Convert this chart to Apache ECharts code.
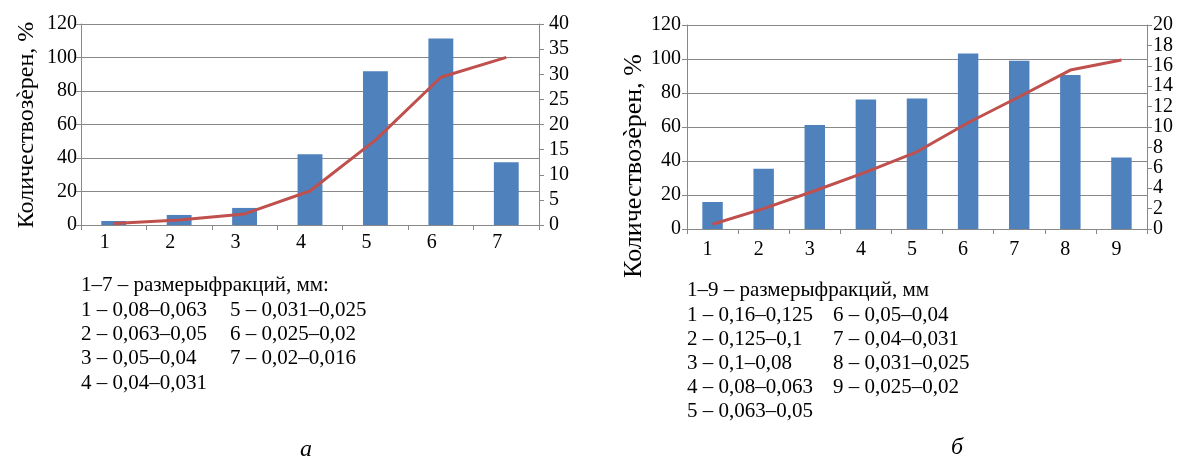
<!DOCTYPE html>
<html><head><meta charset="utf-8">
<script src="https://cdn.jsdelivr.net/npm/echarts@6/dist/echarts.min.js"></script>
<style>html,body{margin:0;padding:0;background:#fff}#c{width:1182px;height:457px}</style>
</head><body><div id="c"></div>
<script>
// ---- Data ----
const catsA = ['1','2','3','4','5','6','7'];
const barsA = [0.8, 2.0, 3.4, 14.1, 30.6, 37.1, 12.5];      // right axis
const lineA = [0.9, 3.0, 6.6, 20.3, 50.7, 88.2, 100.1];     // left axis
const leftTicksA = [0, 120, 20];
const rightTicksA = [0, 40, 5];

const catsB = ['1','2','3','4','5','6','7','8','9'];
const barsB = [2.65, 5.9, 10.2, 12.7, 12.8, 17.2, 16.5, 15.1, 7.0];
const lineB = [2.8, 12.0, 22.5, 33.5, 45.4, 62.5, 77.8, 93.5, 99.4];
const leftTicksB = [0, 120, 20];
const rightTicksB = [0, 20, 2];

const yTitle = 'Количествозѐрен, %';
const headerA = '1–7 – размерыфракций, мм:';
const legendA1 = ['1 – 0,08–0,063', '2 – 0,063–0,05', '3 – 0,05–0,04', '4 – 0,04–0,031'];
const legendA2 = ['5 – 0,031–0,025', '6 – 0,025–0,02', '7 – 0,02–0,016'];
const headerB = '1–9 – размерыфракций, мм';
const legendB1 = ['1 – 0,16–0,125', '2 – 0,125–0,1', '3 – 0,1–0,08', '4 – 0,08–0,063', '5 – 0,063–0,05'];
const legendB2 = ['6 – 0,05–0,04', '7 – 0,04–0,031', '8 – 0,031–0,025', '9 – 0,025–0,02'];
const captionA = 'а';
const captionB = 'б';

// ---- Styles ----
const FONT = '"Liberation Serif", "Times New Roman", serif';
const GRAY = '#888888';
const BAR = '#4f81bd';
const LINE = '#c0504d';

function xAxis(idx, cats, margin, pad) {
  return {
    type: 'category', gridIndex: idx, data: cats, boundaryGap: true,
    axisLine: { lineStyle: { color: GRAY, width: 1 } },
    axisTick: { show: true, length: 5, lineStyle: { color: GRAY } },
    axisLabel: { color: '#000', fontFamily: FONT, fontSize: 20, margin: margin, padding: [0, pad, 0, 0] }
  };
}
function yAxis(idx, t, pos, margin, split) {
  return {
    type: 'value', gridIndex: idx, position: pos, min: t[0], max: t[1], interval: t[2],
    axisLine: { show: true, lineStyle: { color: GRAY, width: 1 } },
    axisTick: { show: true, length: 5, lineStyle: { color: GRAY } },
    axisLabel: { color: '#000', fontFamily: FONT, fontSize: 20, margin: margin },
    splitLine: { show: split, lineStyle: { color: GRAY, width: 1 } }
  };
}
function txt(x, y, s, extra) {
  return {
    type: 'text', x: x, y: y,
    style: Object.assign({ text: s, fill: '#000', font: '21px ' + FONT, textVerticalAlign: 'middle' }, extra || {})
  };
}

const graphics = [];
graphics.push({ type: 'text', x: 27, y: 125, rotation: Math.PI / 2,
  style: { text: yTitle, fill: '#000', font: '24px ' + FONT, textAlign: 'center', textVerticalAlign: 'middle' } });
graphics.push({ type: 'text', x: 634, y: 166, rotation: Math.PI / 2,
  style: { text: yTitle, fill: '#000', font: '26px ' + FONT, textAlign: 'center', textVerticalAlign: 'middle' } });
graphics.push(txt(81, 285, headerA));
legendA1.forEach((s, i) => graphics.push(txt(81, 310 + i * 24.4, s)));
legendA2.forEach((s, i) => graphics.push(txt(230, 310 + i * 24.4, s)));
graphics.push(txt(687, 290, headerB));
legendB1.forEach((s, i) => graphics.push(txt(687, 315 + i * 24.2, s)));
legendB2.forEach((s, i) => graphics.push(txt(833, 315 + i * 24.2, s)));
graphics.push(txt(306, 450, captionA, { textAlign: 'center', font: 'italic 24px ' + FONT }));
graphics.push(txt(957, 448, captionB, { textAlign: 'center', font: 'italic 24px ' + FONT }));

const chart = echarts.init(document.getElementById('c'), null, { renderer: 'canvas' });
chart.setOption({
  animation: false,
  backgroundColor: '#fff',
  grid: [
    { left: 81, top: 24, width: 458, height: 201 },
    { left: 687, top: 25, width: 460, height: 204 }
  ],
  xAxis: [xAxis(0, catsA, 8, 18), xAxis(1, catsB, 11, 10)],
  yAxis: [
    yAxis(0, leftTicksA, 'left', 4, true),
    yAxis(0, rightTicksA, 'right', 10, false),
    yAxis(1, leftTicksB, 'left', 6, true),
    yAxis(1, rightTicksB, 'right', 6, false)
  ],
  series: [
    { type: 'bar', xAxisIndex: 0, yAxisIndex: 1, data: barsA, barWidth: '38%', itemStyle: { color: BAR } },
    { type: 'line', xAxisIndex: 0, yAxisIndex: 0, data: lineA, showSymbol: false, symbol: 'none',
      lineStyle: { color: LINE, width: 3 }, z: 3 },
    { type: 'bar', xAxisIndex: 1, yAxisIndex: 3, data: barsB, barWidth: '40%', itemStyle: { color: BAR } },
    { type: 'line', xAxisIndex: 1, yAxisIndex: 2, data: lineB, showSymbol: false, symbol: 'none',
      lineStyle: { color: LINE, width: 3 }, z: 3 }
  ],
  graphic: graphics
});
</script>
</body></html>
